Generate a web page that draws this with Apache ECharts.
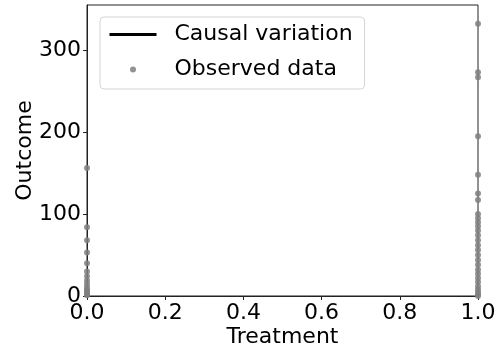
<!DOCTYPE html>
<html>
<head>
<meta charset="utf-8">
<script src="https://cdn.jsdelivr.net/npm/echarts@6/dist/echarts.min.js"></script>
<style>html,body{margin:0;padding:0;background:#fff;}#c{width:504px;height:351px;}</style>
</head>
<body>
<div id="c"></div>
<script>
// Data
const xTicks = [0, 0.2, 0.4, 0.6, 0.8, 1.0];
const yTicks = [0, 100, 200, 300];
const controlOutcomes = [156, 84, 68, 53, 40, 30, 24, 19, 15, 11, 8, 6, 4, 2, 1];
const treatedOutcomes = [332, 273, 267, 195, 148, 125, 117, 100, 95, 90, 85, 80, 74, 68, 62, 56, 50, 44, 38, 32, 27, 22, 17, 12, 8, 5, 2, 0];
const causalLine = []; // causal variation line: not visible inside the plotted range

const observed = controlOutcomes.map(v => [0, v]).concat(treatedOutcomes.map(v => [1, v]));

const font = 'DejaVu Sans';
const fs = 22;
const chart = echarts.init(document.getElementById('c'), null, {renderer: 'canvas'});
chart.setOption({
  animation: false,
  textStyle: {fontFamily: font},
  grid: {left: 87, right: 26, top: 5, bottom: 55, show: true, borderColor: '#222', borderWidth: 1,
    backgroundColor: 'transparent', outerBoundsMode: 'none', containLabel: false},
  legend: {
    left: 100, top: 17,
    orient: 'vertical',
    itemWidth: 47, itemHeight: 6,
    itemGap: 10,
    padding: [5, 12, 7, 8],
    borderColor: '#d4d4d4', borderWidth: 1, borderRadius: 4,
    backgroundColor: 'rgba(255,255,255,0.8)',
    lineStyle: {width: 3},
    textStyle: {fontFamily: font, fontSize: fs, color: '#000', lineHeight: 25, padding: [0, 0, 0, 13]},
    data: [
      {name: 'Causal variation', itemStyle: {opacity: 0}},
      {name: 'Observed data'}
    ]
  },
  xAxis: {
    type: 'value', min: 0, max: 1, interval: 0.2,
    name: 'Treatment', nameLocation: 'middle', nameGap: 30, nameMoveOverlap: false,
    nameTextStyle: {fontFamily: font, fontSize: fs, color: '#000'},
    axisLine: {show: true, lineStyle: {color: '#222', width: 1}},
    axisTick: {show: true, inside: false, length: 4, lineStyle: {color: '#222'}},
    axisLabel: {fontFamily: font, fontSize: fs, color: '#000', margin: 6,
      formatter: v => xTicks.some(t => Math.abs(t - v) < 1e-9) ? v.toFixed(1) : ''},
    splitLine: {show: false}
  },
  yAxis: {
    type: 'value', min: 0, max: 355, interval: 100,
    name: 'Outcome', nameLocation: 'middle', nameGap: 51, nameRotate: 90, nameMoveOverlap: false,
    nameTextStyle: {fontFamily: font, fontSize: fs, color: '#000'},
    axisLine: {show: true, lineStyle: {color: '#222', width: 1}},
    axisTick: {show: true, inside: false, length: 4, lineStyle: {color: '#222'}},
    axisLabel: {fontFamily: font, fontSize: fs, color: '#000', margin: 6, showMaxLabel: false,
      formatter: v => yTicks.indexOf(v) >= 0 ? String(v) : ''},
    splitLine: {show: false}
  },
  series: [
    {
      name: 'Causal variation', type: 'line', data: causalLine,
      symbol: 'none', lineStyle: {color: '#000', width: 3}, itemStyle: {color: '#000'}
    },
    {
      name: 'Observed data', type: 'scatter', data: observed,
      symbol: 'circle', symbolSize: 6, clip: true,
      itemStyle: {color: '#808080', opacity: 0.85}
    }
  ]
});
</script>
</body>
</html>
